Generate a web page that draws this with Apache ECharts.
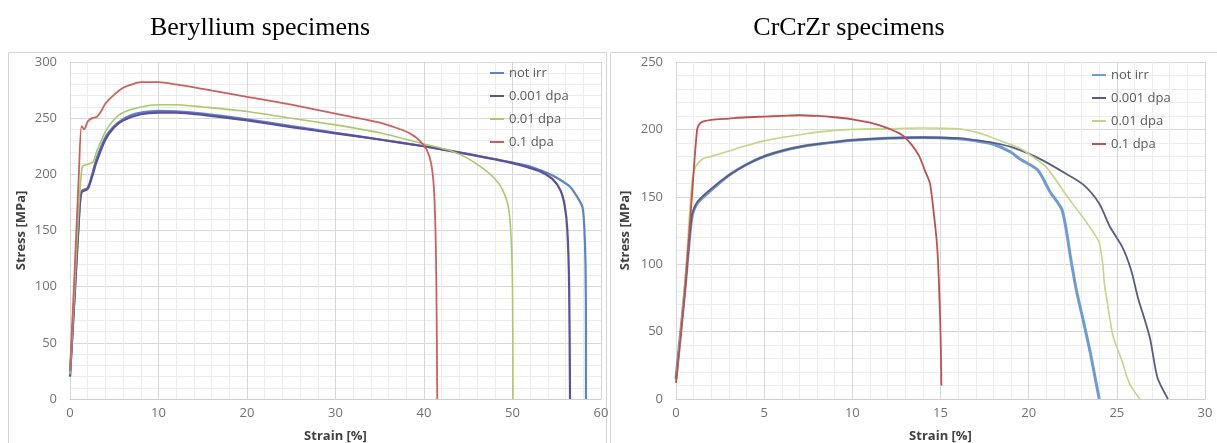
<!DOCTYPE html>
<html>
<head>
<meta charset="utf-8">
<script src="https://cdn.jsdelivr.net/npm/echarts@6/dist/echarts.min.js"></script>
<style>
html,body{margin:0;padding:0;background:#fff;}
#c{width:1217px;height:443px;}
</style>
</head>
<body>
<div id="c"></div>
<script>
// ---------- Data ----------
const seriesNames = ['not irr', '0.001 dpa', '0.01 dpa', '0.1 dpa'];
const titles = ['Beryllium specimens', 'CrCrZr specimens'];
const xName = 'Strain [%]';
const yName = 'Stress [MPa]';

// Beryllium: [strain %, stress MPa]
const beNotIrr = [[0,20],[0.5,90],[1,160],[1.3,185],[2,188],[2.5,200],[3,214],[4,233],[5,243],[6,249],[7,253],[8,255],[10,256.5],[12,256],[15,254],[20,249],[25,243],[30,237],[35,231],[40,225],[45,218],[50,210.5],[52,207],[54,201],[55,197],[56.5,189],[57.3,180],[57.9,171],[58.1,155],[58.25,120],[58.3,60],[58.3,0]];
const be0001 = [[0,20],[0.5,88],[1,158],[1.3,184],[2,187],[2.5,198],[3,211],[4,231],[5,242],[6,248],[8,253.5],[10,255],[12,255],[15,253],[20,248],[25,242],[30,236.5],[35,231],[40,225],[45,218],[50,210],[53,203],[54.5,196],[55.4,186],[55.9,172],[56.2,150],[56.4,100],[56.5,0]];
const be001 = [[0,22],[0.5,95],[1,170],[1.4,207],[2,209],[2.6,211],[3,220],[4,238],[5,249],[6,255],[8,260],[10,262],[12,262],[15,260],[20,256],[25,250],[30,244],[35,237],[40,227],[43,221],[45,214],[46.7,205],[48,196],[48.9,186],[49.5,172],[49.8,150],[50,100],[50.05,0]];
const be01 = [[0,25],[0.5,110],[1,200],[1.3,243],[1.6,240],[2,247],[2.5,250],[3,251],[3.5,256],[4,263],[5,271],[6,277],[7,280],[8,282],[10,282],[12,280],[15,276],[20,269],[25,262],[30,254],[35,246],[37,241],[38.5,236],[39.5,230],[40.3,222],[40.8,210],[41.1,190],[41.3,150],[41.4,100],[41.5,0]];

// CrCrZr: [strain %, stress MPa]
const crNotIrr = [[0,15],[0.5,80],[0.9,135],[1.2,145],[2,155],[3,166],[4,174],[5,180],[6,184],[7,187],[8,189],[10,192],[12,193.5],[14,194],[16,193],[17,191.5],[18,189],[19,183],[19.5,178],[20.5,170],[21.2,154],[21.9,140],[22.4,103],[22.7,81],[23.1,58],[23.5,34],[24,0]];
const cr0001 = [[0,15],[0.5,80],[0.9,136],[1.2,146],[2,156],[3,166],[4,174],[5,180],[6,184],[7,187],[8,189],[10,192],[12,193.5],[14,194],[16,193.5],[17,192],[18,190],[19,187],[20,182],[20.8,177],[22,168],[23.1,159],[24,145],[24.6,128],[25.3,113],[25.8,96],[26.2,75],[26.6,58],[26.9,44],[27.3,16],[27.9,0]];
const cr001 = [[0,12],[0.5,85],[0.9,160],[1.1,172],[1.5,178],[2,180],[3,184],[4,188],[5,191.5],[6,194],[7,196],[8,198],[10,200],[12,200.5],[14,201],[16,200.5],[17,198],[17.5,196],[18.5,191],[19.5,186],[20.2,180],[21,172],[22.2,150],[23,136],[23.6,125],[24,116],[24.2,100],[24.3,85],[24.6,60],[24.8,46],[25.3,28],[25.7,12],[26.3,0]];
const cr01 = [[0,12],[0.5,80],[0.9,150],[1.2,200],[1.4,205],[2,207],[3,208],[4,209],[5,209.5],[6,210],[7,210.5],[8,210],[9,209],[10,207.5],[11,205],[12,201],[12.8,196],[13.4,188],[13.8,180],[14.1,170],[14.4,160],[14.6,140],[14.8,115],[14.9,90],[15,50],[15.05,10]];

// x/y axis ranges and steps
const beX = {min:0, max:60, step:10};
const beY = {min:0, max:300, step:50};
const crX = {min:0, max:30, step:5};
const crY = {min:0, max:250, step:50};

// ---------- Styles ----------
const beColors = ['#5a84c6', '#5d4f9c', '#a9c96a', '#cd5f5c'];
const crColors = ['#6e9bd6', '#5a5a85', '#c2d684', '#c0504d'];
const beWidths = [2.2, 2.2, 1.6, 1.8];
const crWidths = [3, 1.8, 1.6, 1.8];
const labelFont = "'Open Sans', 'Liberation Sans', sans-serif";

function xAxis(idx, r){
  return {
    gridIndex: idx, type:'value', min:r.min, max:r.max, interval:r.step,
    name: xName, nameLocation:'middle', nameGap:31,
    nameTextStyle:{fontFamily:labelFont, fontWeight:'bold', fontSize:13, color:'#404040'},
    axisLine:{show:true, lineStyle:{color:'#cfcfcf', width:1}},
    axisTick:{show:false},
    axisLabel:{margin:8, fontFamily:labelFont, fontSize:13, color:'#707070'},
    splitLine:{show:true, lineStyle:{color:'#d6d6d6', width:1}},
    minorTick:{show:false, splitNumber:5},
    minorSplitLine:{show:true, lineStyle:{color:'#ececec', width:1}}
  };
}
function yAxis(idx, r, gap){
  return {
    gridIndex: idx, type:'value', min:r.min, max:r.max, interval:r.step,
    name: yName, nameLocation:'middle', nameGap:gap, nameRotate:90,
    nameTextStyle:{fontFamily:labelFont, fontWeight:'bold', fontSize:13, color:'#404040'},
    axisLine:{show:false}, axisTick:{show:false},
    axisLabel:{margin:13, fontFamily:labelFont, fontSize:13, color:'#707070'},
    splitLine:{show:true, lineStyle:{color:'#d6d6d6', width:1}},
    minorTick:{show:false, splitNumber:5},
    minorSplitLine:{show:true, lineStyle:{color:'#ececec', width:1}}
  };
}
function lineSeries(name, data, idx, color, width){
  return {
    name, type:'line', xAxisIndex:idx, yAxisIndex:idx, data,
    showSymbol:false, symbol:'none', smooth:0.25,
    lineStyle:{color, width}, itemStyle:{color}, animation:false
  };
}
function legend(left, top, colors){
  return {
    orient:'vertical', left, top, padding:0, icon:'rect', itemWidth:14, itemHeight:2,
    itemGap:9, selectedMode:false,
    textStyle:{fontFamily:labelFont, fontSize:13, color:'#595959', lineHeight:14},
    data: seriesNames.map((n,i)=>({name:n, itemStyle:{color:colors[i]}}))
  };
}

const beData = [beNotIrr, be0001, be001, be01];
const crData = [crNotIrr, cr0001, cr001, cr01];
const titleStyle = {fontFamily:"'Liberation Serif','Times New Roman',serif", fontWeight:'normal', fontSize:26, color:'#000'};

const option = {
  backgroundColor:'#ffffff',
  animation:false,
  title:[
    {text:titles[0], left:255, top:10, textAlign:'center', textStyle:titleStyle},
    {text:titles[1], left:844, top:10, textAlign:'center', textStyle:titleStyle}
  ],
  graphic:[
    {type:'rect', shape:{x:8.5, y:52.5, width:598, height:400}, style:{fill:null, stroke:'#d4d4d4', lineWidth:1}, silent:true},
    {type:'rect', shape:{x:610.5, y:52.5, width:610, height:400}, style:{fill:null, stroke:'#d4d4d4', lineWidth:1}, silent:true}
  ],
  grid:[
    {left:70, right:1217-601, top:62, bottom:443-399, outerBoundsMode:'none', containLabel:false},
    {left:676, right:1217-1205, top:62, bottom:443-399, outerBoundsMode:'none', containLabel:false}
  ],
  xAxis:[xAxis(0, beX), xAxis(1, crX)],
  yAxis:[yAxis(0, beY, 42), yAxis(1, crY, 44)],
  legend:[legend(490, 66, beColors), legend(1092, 68, crColors)],
  series:[
    ...seriesNames.map((n,i)=>lineSeries(n, beData[i], 0, beColors[i], beWidths[i])),
    ...seriesNames.map((n,i)=>lineSeries(n, crData[i], 1, crColors[i], crWidths[i]))
  ]
};

const chart = echarts.init(document.getElementById('c'), null, {renderer:'canvas'});
chart.setOption(option);
</script>
</body>
</html>
